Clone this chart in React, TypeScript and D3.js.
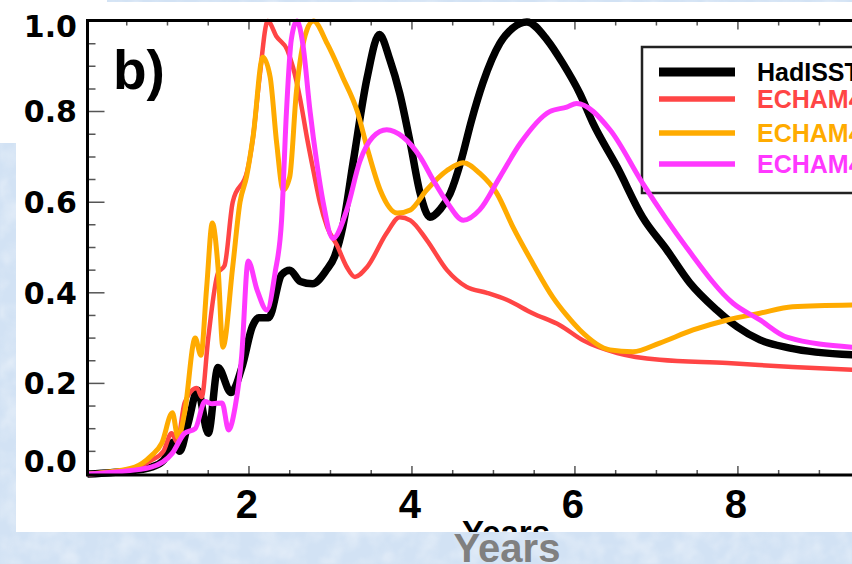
import React from 'react';
import * as d3 from 'd3';

const W = 852;
const H = 564;

// Axis ticks
const yMajor = [0, 0.2, 0.4, 0.6, 0.8, 1.0];
const yLabels = ['0.0', '0.2', '0.4', '0.6', '0.8', '1.0'];
const xMajor = [2, 4, 6, 8];
const xLabels = ['2', '4', '6', '8'];

// Normalised spectral power against period (years)
const hadPeriod = [0.03, 0.3, 0.6, 0.8, 0.95, 1.07, 1.15, 1.25, 1.37, 1.5, 1.62, 1.78, 1.92, 2.04, 2.12, 2.24, 2.4, 2.5, 2.63, 2.78, 2.95, 3.05, 3.15, 3.28, 3.45, 3.6, 3.73, 3.85, 3.98, 4.1, 4.22, 4.35, 4.47, 4.6, 4.73, 4.87, 5.08, 5.24, 5.41, 5.66, 5.85, 6.06, 6.22, 6.52, 6.83, 7.13, 7.41, 7.74, 7.99, 8.27, 8.64, 9.4];
const hadPower = [0.0, 0.003, 0.008, 0.015, 0.03, 0.07, 0.05, 0.11, 0.185, 0.09, 0.235, 0.18, 0.24, 0.325, 0.345, 0.345, 0.44, 0.45, 0.425, 0.42, 0.45, 0.48, 0.545, 0.69, 0.875, 0.97, 0.914, 0.84, 0.73, 0.62, 0.567, 0.585, 0.62, 0.69, 0.78, 0.863, 0.951, 0.985, 0.998, 0.958, 0.907, 0.84, 0.775, 0.677, 0.567, 0.494, 0.422, 0.362, 0.325, 0.296, 0.278, 0.263];

const redPeriod = [0.03, 0.3, 0.6, 0.8, 0.95, 1.05, 1.12, 1.21, 1.36, 1.42, 1.5, 1.62, 1.7, 1.8, 1.98, 2.05, 2.13, 2.23, 2.34, 2.47, 2.54, 2.63, 2.71, 2.79, 2.87, 2.96, 3.08, 3.2, 3.3, 3.45, 3.69, 3.85, 3.98, 4.18, 4.43, 4.67, 4.92, 5.17, 5.48, 5.82, 6.1, 6.52, 7.04, 7.87, 8.67, 9.4];
const redPower = [0.0, 0.004, 0.012, 0.03, 0.05, 0.09, 0.07, 0.157, 0.19, 0.17, 0.3, 0.444, 0.46, 0.6, 0.67, 0.744, 0.876, 1.0, 0.965, 0.936, 0.898, 0.826, 0.744, 0.67, 0.6, 0.545, 0.505, 0.457, 0.435, 0.457, 0.532, 0.567, 0.56, 0.517, 0.45, 0.413, 0.4, 0.384, 0.355, 0.328, 0.295, 0.267, 0.252, 0.245, 0.236, 0.23];

const orangePeriod = [0.03, 0.3, 0.6, 0.8, 0.93, 1.06, 1.13, 1.21, 1.34, 1.41, 1.48, 1.55, 1.62, 1.68, 1.8, 1.89, 1.97, 2.05, 2.17, 2.26, 2.34, 2.42, 2.5, 2.58, 2.71, 2.79, 2.96, 3.15, 3.33, 3.45, 3.61, 3.82, 3.98, 4.18, 4.43, 4.63, 4.83, 5.04, 5.24, 5.48, 5.73, 5.9, 6.06, 6.43, 6.71, 7.04, 7.45, 7.87, 8.27, 8.67, 9.4];
const orangePower = [0.0, 0.005, 0.015, 0.04, 0.068, 0.135, 0.08, 0.135, 0.3, 0.262, 0.41, 0.554, 0.457, 0.28, 0.457, 0.6, 0.656, 0.744, 0.92, 0.876, 0.73, 0.627, 0.656, 0.84, 0.98, 1.0, 0.95, 0.876, 0.8, 0.72, 0.627, 0.576, 0.583, 0.627, 0.67, 0.687, 0.664, 0.62, 0.545, 0.466, 0.39, 0.35, 0.318, 0.274, 0.27, 0.289, 0.318, 0.34, 0.355, 0.369, 0.373];

const magentaPeriod = [0.03, 0.4, 0.8, 1.06, 1.21, 1.34, 1.46, 1.55, 1.67, 1.75, 1.83, 1.91, 1.99, 2.1, 2.22, 2.32, 2.4, 2.46, 2.52, 2.59, 2.66, 2.75, 2.83, 2.91, 3.03, 3.2, 3.36, 3.52, 3.69, 3.89, 4.1, 4.26, 4.43, 4.63, 4.83, 5.08, 5.33, 5.69, 5.9, 6.02, 6.43, 6.83, 7.37, 7.94, 8.27, 8.6, 9.4];
const magentaPower = [0.0, 0.005, 0.015, 0.046, 0.09, 0.1, 0.16, 0.155, 0.157, 0.097, 0.148, 0.26, 0.47, 0.406, 0.362, 0.444, 0.56, 0.8, 0.96, 1.0, 0.95, 0.8, 0.69, 0.6, 0.52, 0.583, 0.69, 0.744, 0.76, 0.744, 0.7, 0.649, 0.6, 0.56, 0.583, 0.656, 0.73, 0.8, 0.81, 0.818, 0.76, 0.642, 0.5, 0.377, 0.34, 0.302, 0.28];

const seriesNames = ['HadISST', 'ECHAM4', 'ECHAM4', 'ECHAM4'];
const seriesColors = ['#000000', '#ff4545', '#ffab00', '#ff38ff'];
const seriesWidths = [7.5, 4.5, 5, 5];

const x = d3.scaleLinear().domain([0, 9.4]).range([86, 852]);
const y = d3.scaleLinear().domain([0, 1]).range([474, 21]);

const series = [
  { period: hadPeriod, power: hadPower },
  { period: redPeriod, power: redPower },
  { period: orangePeriod, power: orangePower },
  { period: magentaPeriod, power: magentaPower },
].map((s, i) => ({
  pts: s.period.map((p, j) => [p, s.power[j]] as [number, number]),
  name: seriesNames[i],
  color: seriesColors[i],
  width: seriesWidths[i],
}));

const line = d3
  .line<[number, number]>()
  .x((d) => x(d[0]))
  .y((d) => y(d[1]))
  .curve(d3.curveMonotoneX);

const AXIS_L = 87.5;
const AXIS_T = 20.5;
const AXIS_B = 475;

const xMinor = d3.range(0.5, 9.3, 0.5).filter((t) => !xMajor.includes(t));
const yMinor = d3.range(0.05, 1.0, 0.05).filter((v) => !yMajor.some((m) => Math.abs(m - v) < 1e-6));

const panelPath = 'M0,0 H107 V2 H852 V532 H16 V143 H0 Z';

export default function App() {
  const legendRows = [72, 99, 133, 164];
  return (
    <div style={{ position: 'fixed', left: 0, top: 0 }}>
      <svg width={W} height={H} viewBox={`0 0 ${W} ${H}`} style={{ display: 'block' }}>
        <defs>
          <filter id="mottle" x="0" y="0" width="100%" height="100%">
            <feTurbulence type="fractalNoise" baseFrequency="0.05" numOctaves="3" seed="7" />
            <feColorMatrix
              type="matrix"
              values="0 0 0 0 1  0 0 0 0 1  0 0 0 0 1  0 0 0 1.3 -0.5"
            />
            <feGaussianBlur stdDeviation="0.8" />
          </filter>
          <clipPath id="panelClip">
            <path d={panelPath} />
          </clipPath>
          <clipPath id="plotClip">
            <rect x={AXIS_L} y={0} width={W - AXIS_L} height={AXIS_B + 4} />
          </clipPath>
        </defs>

        {/* slide background */}
        <rect x={0} y={0} width={W} height={H} fill="#d2e2f4" />
        <rect x={0} y={0} width={W} height={H} filter="url(#mottle)" opacity={0.6} />

        {/* figure panel */}
        <path d={panelPath} fill="#ffffff" />

        <g clipPath="url(#panelClip)" fontFamily="'Liberation Sans', Arial, sans-serif" fontWeight="bold">
          {/* minor / major ticks, left axis */}
          {yMinor.map((v) => (
            <line key={'ym' + v} x1={AXIS_L} x2={AXIS_L + 8} y1={y(v)} y2={y(v)} stroke="#555" strokeWidth={1.5} />
          ))}
          {yMajor.map((v) => (
            <line key={'yM' + v} x1={AXIS_L} x2={AXIS_L + 17} y1={y(v)} y2={y(v)} stroke="#555" strokeWidth={1.5} />
          ))}
          {/* bottom and top axis ticks */}
          {xMinor.map((t) => (
            <g key={'xm' + t}>
              <line x1={x(t)} x2={x(t)} y1={AXIS_B} y2={AXIS_B - 5} stroke="#555" strokeWidth={1.5} />
              <line x1={x(t)} x2={x(t)} y1={AXIS_T} y2={AXIS_T + 5} stroke="#555" strokeWidth={1.5} />
            </g>
          ))}
          {xMajor.map((t) => (
            <g key={'xM' + t}>
              <line x1={x(t)} x2={x(t)} y1={AXIS_B} y2={AXIS_B - 9} stroke="#555" strokeWidth={1.5} />
              <line x1={x(t)} x2={x(t)} y1={AXIS_T} y2={AXIS_T + 9} stroke="#555" strokeWidth={1.5} />
            </g>
          ))}

          {/* legend frame */}
          <rect x={642} y={47} width={260} height={146} fill="none" stroke="#222" strokeWidth={2.5} />

          {/* spectra */}
          <g clipPath="url(#plotClip)">
            {series.map((s, i) => (
              <path
                key={'s' + i}
                d={line(s.pts) || ''}
                fill="none"
                stroke={s.color}
                strokeWidth={s.width}
                strokeLinejoin="round"
                strokeLinecap="round"
              />
            ))}
          </g>

          {/* axes frame */}
          <line x1={AXIS_L} x2={AXIS_L} y1={AXIS_T - 1.5} y2={AXIS_B + 1.5} stroke="#000" strokeWidth={3} />
          <line x1={AXIS_L} x2={W} y1={AXIS_T} y2={AXIS_T} stroke="#000" strokeWidth={3} />
          <line x1={AXIS_L} x2={W} y1={AXIS_B} y2={AXIS_B} stroke="#000" strokeWidth={3} />

          {/* y tick labels */}
          {yMajor.map((v, i) => (
            <text
              key={'yl' + v}
              x={77}
              y={Math.min(Math.max(y(v), 26), 461)}
              dy="0.36em"
              textAnchor="end"
              fontFamily="'DejaVu Sans', sans-serif"
              fontSize={30}
              fill="#000"
            >
              {yLabels[i]}
            </text>
          ))}

          {/* x tick labels */}
          {xMajor.map((t, i) => (
            <text key={'xl' + t} x={x(t) - 2} y={518} textAnchor="middle" fontSize={40} fill="#000">
              {xLabels[i]}
            </text>
          ))}

          {/* panel letter */}
          <text x={113} y={89} fontSize={55} fill="#000">
            b)
          </text>

          {/* legend entries */}
          {series.map((s, i) => (
            <g key={'lg' + i}>
              <line
                x1={659}
                x2={735}
                y1={legendRows[i]}
                y2={legendRows[i]}
                stroke={s.color}
                strokeWidth={i === 0 ? 9 : 5.5}
              />
              <text x={757} y={legendRows[i] + 9} fontSize={25} fill={i === 0 ? '#000' : s.color}>
                {s.name}
              </text>
            </g>
          ))}

          {/* axis title inside the figure */}
          <text x={506} y={544} textAnchor="middle" fontSize={33} fill="#000">
            Years
          </text>
        </g>

        {/* axis title on the slide */}
        <text
          x={507}
          y={562}
          textAnchor="middle"
          fontFamily="'Liberation Sans', Arial, sans-serif"
          fontWeight="bold"
          fontSize={40}
          fill="#808080"
        >
          Years
        </text>
      </svg>
    </div>
  );
}
